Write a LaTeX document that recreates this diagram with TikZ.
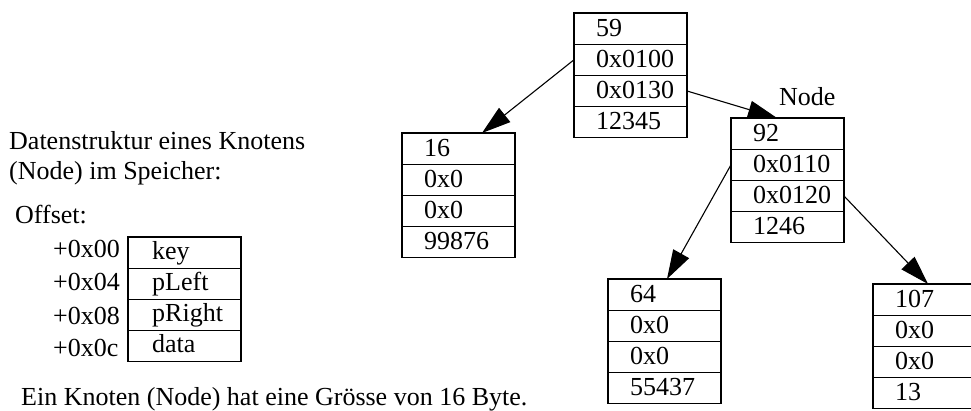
\documentclass[tikz,border=0pt]{standalone}
\usepackage{fontspec}
\setmainfont{Liberation Serif}
\usetikzlibrary{arrows.meta}

% one row of a memory record
\tikzset{
  cell/.style={draw, line width=1.2pt, minimum width=113pt, minimum height=31.2pt,
               inner sep=0pt, outer sep=0pt},
  celltext/.style={anchor=base west, inner sep=0pt},
  plain/.style={anchor=base west, inner sep=0pt},
  ptr/.style={line width=1.1pt, -{Triangle[length=29pt,width=18pt]}},
  every node/.style={font=\fontsize{26}{30}\selectfont}
}

% #1 name, #2 x, #3 y (top left), #4-#7 field values
\newcommand\memrec[7]{%
  \node[cell, anchor=north west] (#1-1) at (#2,#3) {};
  \node[cell, anchor=north] (#1-2) at (#1-1.south) {};
  \node[cell, anchor=north] (#1-3) at (#1-2.south) {};
  \node[cell, anchor=north] (#1-4) at (#1-3.south) {};
  \node[celltext] (#1-t1) at ([xshift=22pt,yshift=8pt]#1-1.south west) {#4};
  \node[celltext] (#1-t2) at ([xshift=22pt,yshift=8pt]#1-2.south west) {#5};
  \node[celltext] (#1-t3) at ([xshift=22pt,yshift=8pt]#1-3.south west) {#6};
  \node[celltext] (#1-t4) at ([xshift=22pt,yshift=8pt]#1-4.south west) {#7};
}

\begin{document}
\begin{tikzpicture}[x=1pt, y=-1pt]
  \clip (0,0) rectangle (971,411);
  \fill[white] (0,0) rectangle (971,411);

  % description on the left
  \node[plain] (title1) at (9,150) {Datenstruktur eines Knotens};
  \node[plain] (title2) at (9,180) {(Node) im Speicher:};
  \node[plain] (offhead) at (15,224) {Offset:};

  % layout of one node
  \node[cell, anchor=north west] (lay-1) at (128,237) {};
  \node[cell, anchor=north] (lay-2) at (lay-1.south) {};
  \node[cell, anchor=north] (lay-3) at (lay-2.south) {};
  \node[cell, anchor=north] (lay-4) at (lay-3.south) {};
  \node[celltext] (lay-t1) at ([xshift=24pt,yshift=9pt]lay-1.south west) {key};
  \node[celltext] (lay-t2) at ([xshift=24pt,yshift=9pt]lay-2.south west) {pLeft};
  \node[celltext] (lay-t3) at ([xshift=24pt,yshift=9pt]lay-3.south west) {pRight};
  \node[celltext] (lay-t4) at ([xshift=24pt,yshift=9pt]lay-4.south west) {data};
  \node[plain] (off0) at (53,258) {+0x00};
  \node[plain] (off4) at (53,291) {+0x04};
  \node[plain] (off8) at (53,324) {+0x08};
  \node[plain] (offc) at (53,356) {+0x0c};

  \node[plain] (sizenote) at (21,405) {Ein Knoten (Node) hat eine Grösse von 16 Byte.};

  % the tree in memory
  \memrec{n59}{574}{13}{59}{0x0100}{0x0130}{12345}
  \memrec{n16}{402}{133}{16}{0x0}{0x0}{99876}
  \memrec{n92}{731}{118}{92}{0x0110}{0x0120}{1246}
  \memrec{n64}{608}{279}{64}{0x0}{0x0}{55437}
  \memrec{n107}{873}{284}{107}{0x0}{0x0}{13}

  \node[plain] (nodelbl) at (779,106) {Node};

  % pointer targets on the top edges
  \coordinate (in16) at ([xshift=80pt]n16-1.north west);
  \coordinate (in92) at ([xshift=46pt]n92-1.north west);
  \coordinate (in64) at ([xshift=59pt]n64-1.north west);
  \coordinate (in107) at ([xshift=55pt]n107-1.north west);

  \draw[ptr] (n59-2.west) -- (in16);
  \draw[ptr] (n59-3.east) -- (in92);
  \draw[ptr] (n92-2.west) -- (in64);
  \draw[ptr] (n92-3.east) -- (in107);
\end{tikzpicture}
\end{document}
